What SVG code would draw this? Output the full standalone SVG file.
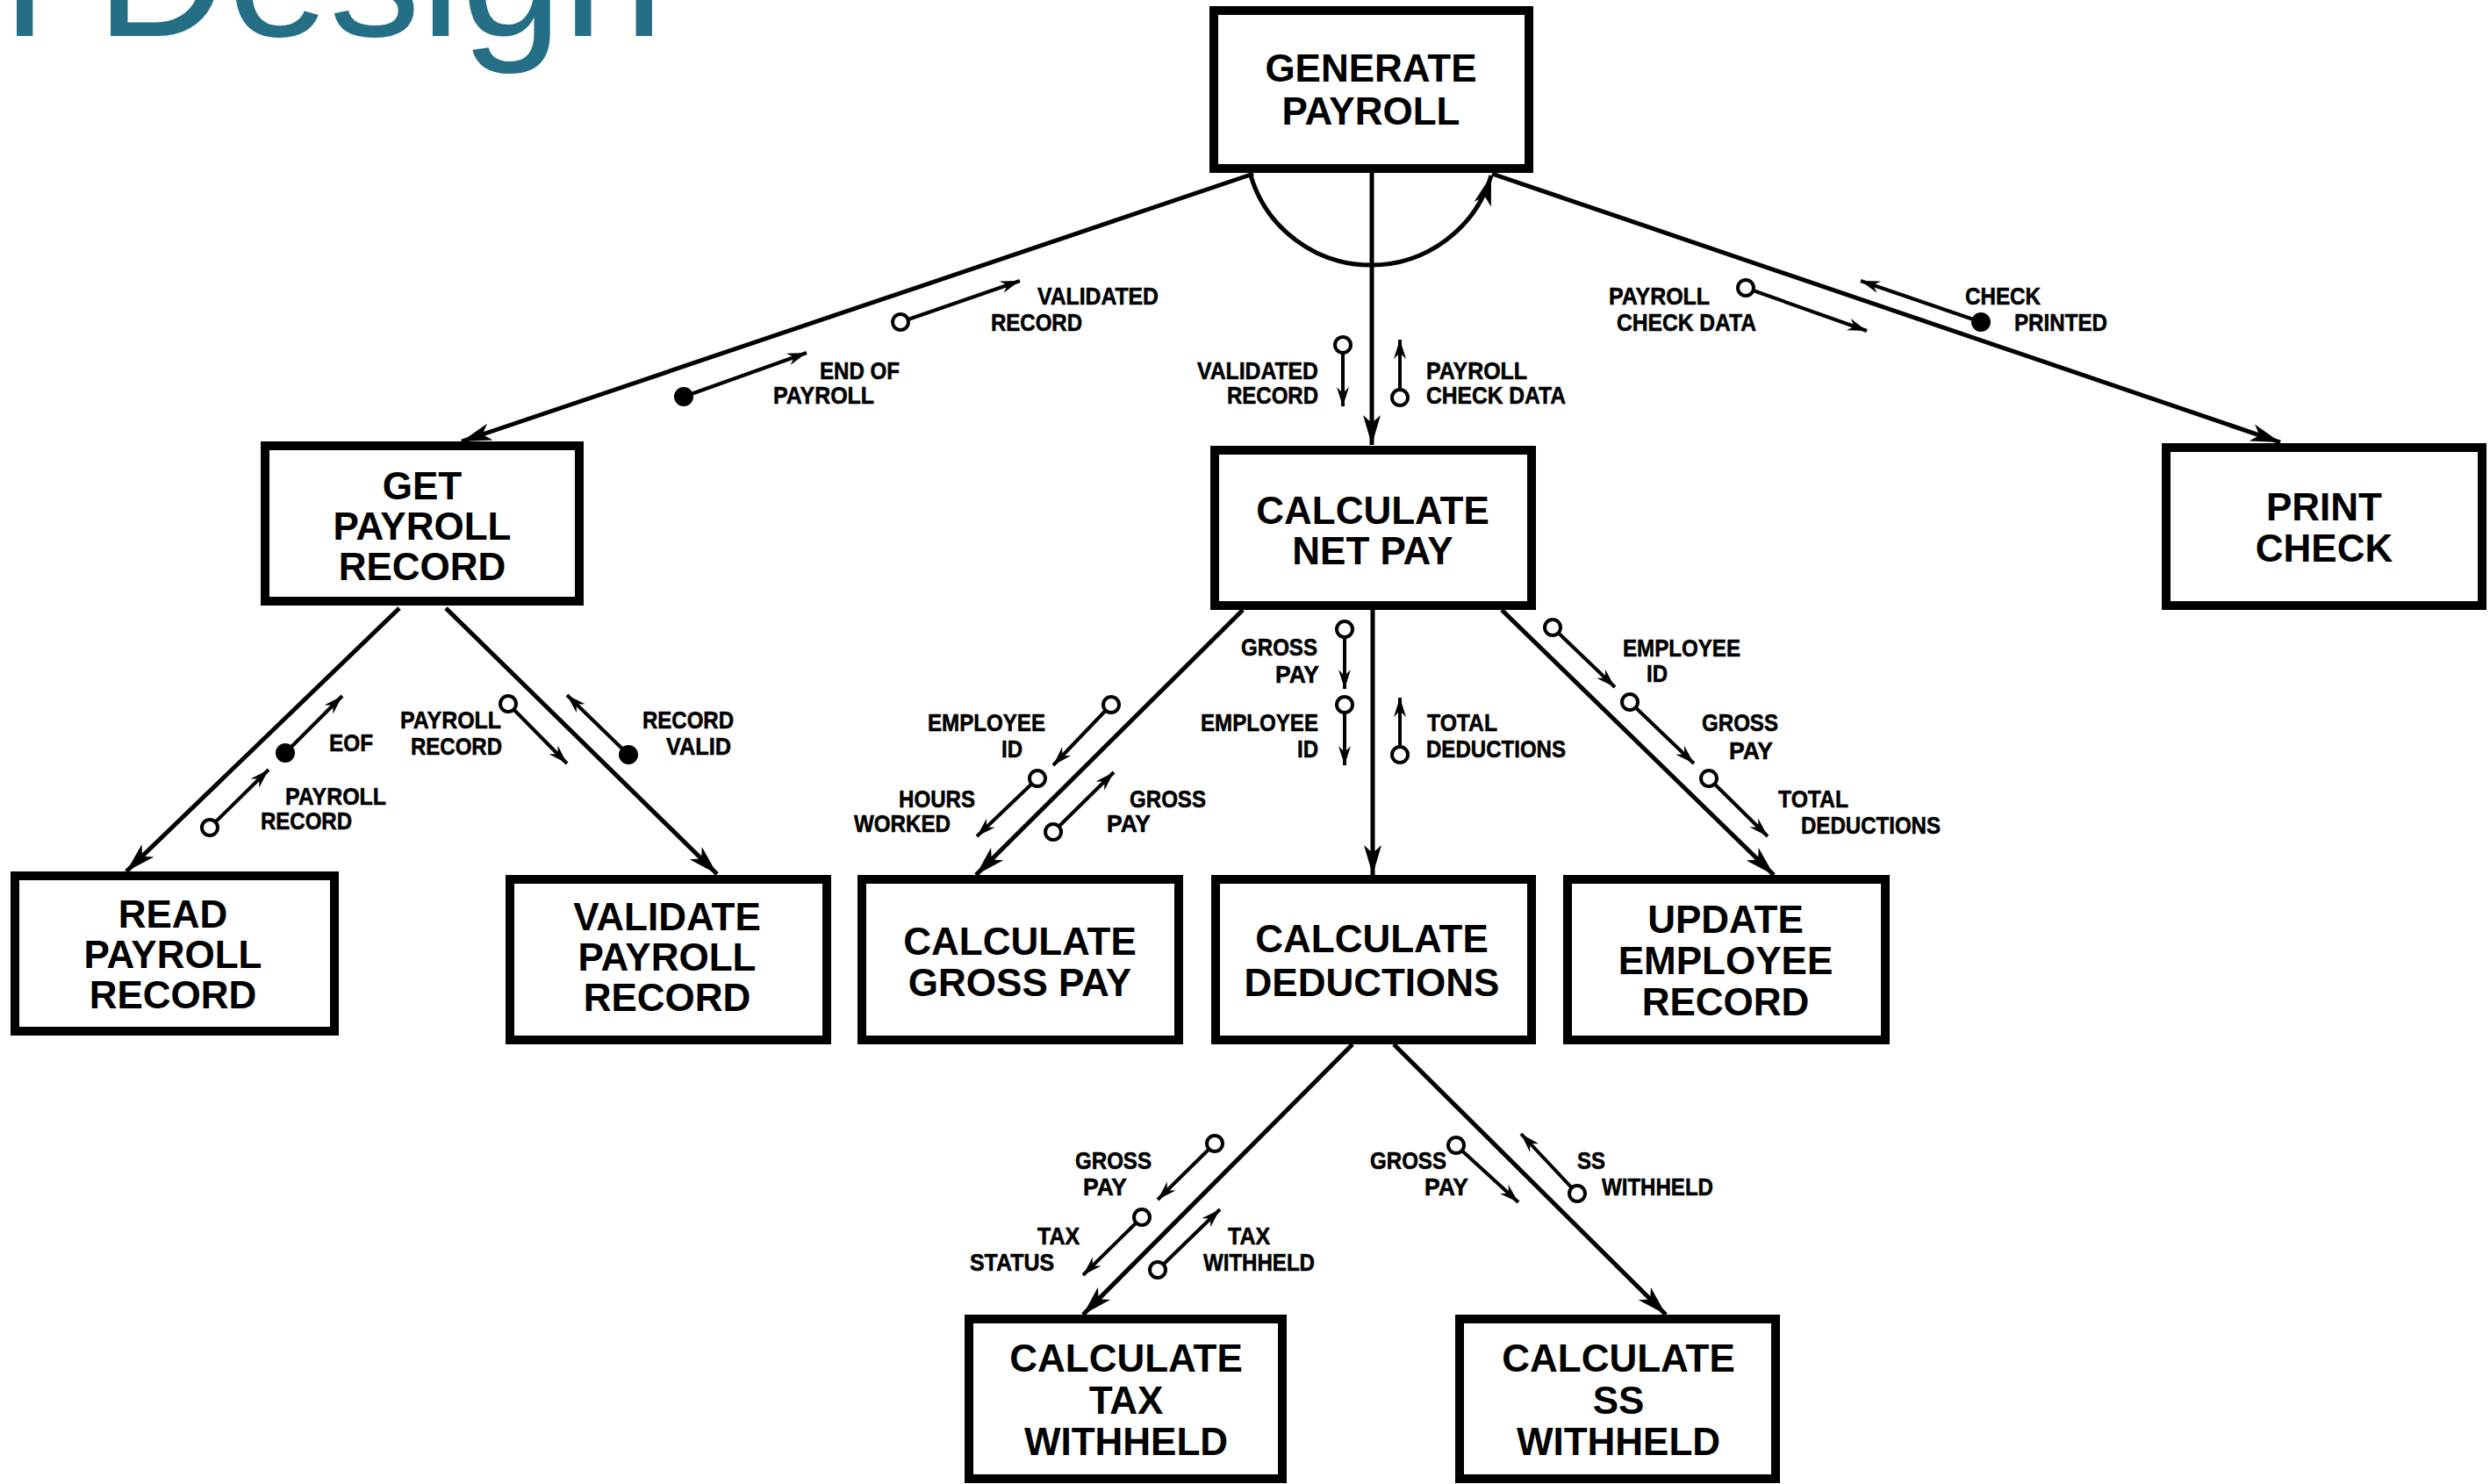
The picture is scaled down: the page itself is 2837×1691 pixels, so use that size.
<svg xmlns="http://www.w3.org/2000/svg" width="2837" height="1691" viewBox="0 0 2837 1691">
  <defs>
    <style>
      .box { fill: #fff; stroke: #000; stroke-width: 10; }
      .nt { font-family: "Liberation Sans", Arial, sans-serif; font-weight: bold; font-size: 44px; text-anchor: middle; fill: #000; }
      .lb { font-family: "Liberation Sans", Arial, sans-serif; font-weight: bold; font-size: 28px; fill: #000; stroke: #000; stroke-width: 0.6; }
      .ln { stroke: #000; stroke-width: 5; fill: none; }
      .cp { stroke: #000; stroke-width: 4; fill: none; }
      .oc { fill: #fff; stroke: #000; stroke-width: 4; }
      .fd { fill: #000; }
      .title { font-family: "Liberation Sans", Arial, sans-serif; font-size: 208px; fill: #246f86; }
    </style>
    <marker id="ah" markerUnits="userSpaceOnUse" viewBox="-36 -12 40 24" markerWidth="40" markerHeight="24" refX="0" refY="0" orient="auto">
      <path d="M0,0 L-34,-10 L-25,0 L-34,10 Z" fill="#000"/>
    </marker>
    <marker id="sa" markerUnits="userSpaceOnUse" viewBox="-26 -10 30 20" markerWidth="30" markerHeight="20" refX="0" refY="0" orient="auto">
      <path d="M0,0 L-22,-7 L-15,0 L-22,7 Z" fill="#000"/>
    </marker>
  </defs>

  <rect x="0" y="0" width="2837" height="1691" fill="#fff"/>

  <text class="title" x="5" y="41">l Design</text>

  <!-- structure chart connectors and data couples -->
  <g id="connectors">
    <!-- calls -->
    <line class="ln" x1="1428" y1="198" x2="526" y2="503" marker-end="url(#ah)"/>
    <line class="ln" x1="1563" y1="195" x2="1563" y2="507" marker-end="url(#ah)"/>
    <line class="ln" x1="1700" y1="198" x2="2598" y2="504" marker-end="url(#ah)"/>
    <path class="ln" d="M1425,200 A143,143 0 0 0 1699,200" marker-end="url(#ah)"/>

    <line class="ln" x1="455" y1="693" x2="144" y2="993" marker-end="url(#ah)"/>
    <line class="ln" x1="508" y1="693" x2="817" y2="996" marker-end="url(#ah)"/>

    <line class="ln" x1="1416" y1="695" x2="1112" y2="997" marker-end="url(#ah)"/>
    <line class="ln" x1="1564" y1="695" x2="1564" y2="997" marker-end="url(#ah)"/>
    <line class="ln" x1="1711" y1="695" x2="2021" y2="997" marker-end="url(#ah)"/>

    <line class="ln" x1="1541" y1="1190" x2="1234" y2="1498" marker-end="url(#ah)"/>
    <line class="ln" x1="1588" y1="1190" x2="1898" y2="1498" marker-end="url(#ah)"/>

    <!-- couple arrows -->
    <line class="cp" x1="1026" y1="367" x2="1162" y2="320" marker-end="url(#sa)"/>
    <line class="cp" x1="779" y1="452" x2="919" y2="402" marker-end="url(#sa)"/>
    <line class="cp" x1="1989" y1="328" x2="2127" y2="377" marker-end="url(#sa)"/>
    <line class="cp" x1="2257" y1="367" x2="2120" y2="320" marker-end="url(#sa)"/>
    <line class="cp" x1="1530" y1="393" x2="1530" y2="463" marker-end="url(#sa)"/>
    <line class="cp" x1="1595" y1="453" x2="1595" y2="387" marker-end="url(#sa)"/>

    <line class="cp" x1="325" y1="858" x2="390" y2="793" marker-end="url(#sa)"/>
    <line class="cp" x1="239" y1="943" x2="306" y2="877" marker-end="url(#sa)"/>
    <line class="cp" x1="579" y1="802" x2="646" y2="870" marker-end="url(#sa)"/>
    <line class="cp" x1="716" y1="860" x2="646" y2="792" marker-end="url(#sa)"/>

    <line class="cp" x1="1266" y1="803" x2="1200" y2="872" marker-end="url(#sa)"/>
    <line class="cp" x1="1182" y1="887" x2="1113" y2="953" marker-end="url(#sa)"/>
    <line class="cp" x1="1200" y1="948" x2="1269" y2="880" marker-end="url(#sa)"/>

    <line class="cp" x1="1532" y1="717" x2="1532" y2="785" marker-end="url(#sa)"/>
    <line class="cp" x1="1532" y1="803" x2="1532" y2="872" marker-end="url(#sa)"/>
    <line class="cp" x1="1595" y1="860" x2="1595" y2="795" marker-end="url(#sa)"/>

    <line class="cp" x1="1769" y1="715" x2="1840" y2="783" marker-end="url(#sa)"/>
    <line class="cp" x1="1857" y1="800" x2="1930" y2="870" marker-end="url(#sa)"/>
    <line class="cp" x1="1947" y1="887" x2="2014" y2="953" marker-end="url(#sa)"/>

    <line class="cp" x1="1384" y1="1303" x2="1319" y2="1367" marker-end="url(#sa)"/>
    <line class="cp" x1="1301" y1="1387" x2="1234" y2="1453" marker-end="url(#sa)"/>
    <line class="cp" x1="1319" y1="1447" x2="1390" y2="1378" marker-end="url(#sa)"/>
    <line class="cp" x1="1659" y1="1305" x2="1730" y2="1370" marker-end="url(#sa)"/>
    <line class="cp" x1="1797" y1="1360" x2="1733" y2="1292" marker-end="url(#sa)"/>

    <!-- couple tails: open = data, filled = control -->
    <circle class="oc" cx="1026" cy="367" r="9"/>
    <circle class="fd" cx="779" cy="452" r="11"/>
    <circle class="oc" cx="1989" cy="328" r="9"/>
    <circle class="fd" cx="2257" cy="367" r="11"/>
    <circle class="oc" cx="1530" cy="393" r="9"/>
    <circle class="oc" cx="1595" cy="453" r="9"/>
    <circle class="fd" cx="325" cy="858" r="11"/>
    <circle class="oc" cx="239" cy="943" r="9"/>
    <circle class="oc" cx="579" cy="802" r="9"/>
    <circle class="fd" cx="716" cy="860" r="11"/>
    <circle class="oc" cx="1266" cy="803" r="9"/>
    <circle class="oc" cx="1182" cy="887" r="9"/>
    <circle class="oc" cx="1200" cy="948" r="9"/>
    <circle class="oc" cx="1532" cy="717" r="9"/>
    <circle class="oc" cx="1532" cy="803" r="9"/>
    <circle class="oc" cx="1595" cy="860" r="9"/>
    <circle class="oc" cx="1769" cy="715" r="9"/>
    <circle class="oc" cx="1857" cy="800" r="9"/>
    <circle class="oc" cx="1947" cy="887" r="9"/>
    <circle class="oc" cx="1384" cy="1303" r="9"/>
    <circle class="oc" cx="1301" cy="1387" r="9"/>
    <circle class="oc" cx="1319" cy="1447" r="9"/>
    <circle class="oc" cx="1659" cy="1305" r="9"/>
    <circle class="oc" cx="1797" cy="1360" r="9"/>

    <!-- couple labels -->
    <text class="lb" x="1182" y="347" textLength="138" lengthAdjust="spacingAndGlyphs">VALIDATED</text>
    <text class="lb" x="1129" y="377" textLength="104" lengthAdjust="spacingAndGlyphs">RECORD</text>
    <text class="lb" x="934" y="432" textLength="91" lengthAdjust="spacingAndGlyphs">END OF</text>
    <text class="lb" x="881" y="460" textLength="115" lengthAdjust="spacingAndGlyphs">PAYROLL</text>
    <text class="lb" x="1833" y="347" textLength="115" lengthAdjust="spacingAndGlyphs">PAYROLL</text>
    <text class="lb" x="1842" y="377" textLength="159" lengthAdjust="spacingAndGlyphs">CHECK DATA</text>
    <text class="lb" x="2239" y="347" textLength="86" lengthAdjust="spacingAndGlyphs">CHECK</text>
    <text class="lb" x="2295" y="377" textLength="106" lengthAdjust="spacingAndGlyphs">PRINTED</text>
    <text class="lb" x="1364" y="432" textLength="138" lengthAdjust="spacingAndGlyphs">VALIDATED</text>
    <text class="lb" x="1398" y="460" textLength="104" lengthAdjust="spacingAndGlyphs">RECORD</text>
    <text class="lb" x="1625" y="432" textLength="115" lengthAdjust="spacingAndGlyphs">PAYROLL</text>
    <text class="lb" x="1625" y="460" textLength="159" lengthAdjust="spacingAndGlyphs">CHECK DATA</text>

    <text class="lb" x="375" y="856" textLength="50" lengthAdjust="spacingAndGlyphs">EOF</text>
    <text class="lb" x="325" y="917" textLength="115" lengthAdjust="spacingAndGlyphs">PAYROLL</text>
    <text class="lb" x="297" y="945" textLength="104" lengthAdjust="spacingAndGlyphs">RECORD</text>
    <text class="lb" x="456" y="830" textLength="115" lengthAdjust="spacingAndGlyphs">PAYROLL</text>
    <text class="lb" x="468" y="860" textLength="104" lengthAdjust="spacingAndGlyphs">RECORD</text>
    <text class="lb" x="732" y="830" textLength="104" lengthAdjust="spacingAndGlyphs">RECORD</text>
    <text class="lb" x="759" y="860" textLength="74" lengthAdjust="spacingAndGlyphs">VALID</text>

    <text class="lb" x="1057" y="833" textLength="134" lengthAdjust="spacingAndGlyphs">EMPLOYEE</text>
    <text class="lb" x="1141" y="863" textLength="24" lengthAdjust="spacingAndGlyphs">ID</text>
    <text class="lb" x="1024" y="920" textLength="87" lengthAdjust="spacingAndGlyphs">HOURS</text>
    <text class="lb" x="973" y="948" textLength="110" lengthAdjust="spacingAndGlyphs">WORKED</text>
    <text class="lb" x="1287" y="920" textLength="87" lengthAdjust="spacingAndGlyphs">GROSS</text>
    <text class="lb" x="1261" y="948" textLength="50" lengthAdjust="spacingAndGlyphs">PAY</text>

    <text class="lb" x="1414" y="747" textLength="87" lengthAdjust="spacingAndGlyphs">GROSS</text>
    <text class="lb" x="1453" y="778" textLength="50" lengthAdjust="spacingAndGlyphs">PAY</text>
    <text class="lb" x="1368" y="833" textLength="134" lengthAdjust="spacingAndGlyphs">EMPLOYEE</text>
    <text class="lb" x="1478" y="863" textLength="24" lengthAdjust="spacingAndGlyphs">ID</text>
    <text class="lb" x="1626" y="833" textLength="80" lengthAdjust="spacingAndGlyphs">TOTAL</text>
    <text class="lb" x="1625" y="863" textLength="159" lengthAdjust="spacingAndGlyphs">DEDUCTIONS</text>

    <text class="lb" x="1849" y="748" textLength="134" lengthAdjust="spacingAndGlyphs">EMPLOYEE</text>
    <text class="lb" x="1876" y="777" textLength="24" lengthAdjust="spacingAndGlyphs">ID</text>
    <text class="lb" x="1939" y="833" textLength="87" lengthAdjust="spacingAndGlyphs">GROSS</text>
    <text class="lb" x="1970" y="865" textLength="50" lengthAdjust="spacingAndGlyphs">PAY</text>
    <text class="lb" x="2026" y="920" textLength="80" lengthAdjust="spacingAndGlyphs">TOTAL</text>
    <text class="lb" x="2052" y="950" textLength="159" lengthAdjust="spacingAndGlyphs">DEDUCTIONS</text>

    <text class="lb" x="1225" y="1332" textLength="87" lengthAdjust="spacingAndGlyphs">GROSS</text>
    <text class="lb" x="1234" y="1362" textLength="50" lengthAdjust="spacingAndGlyphs">PAY</text>
    <text class="lb" x="1182" y="1418" textLength="48" lengthAdjust="spacingAndGlyphs">TAX</text>
    <text class="lb" x="1105" y="1448" textLength="96" lengthAdjust="spacingAndGlyphs">STATUS</text>
    <text class="lb" x="1399" y="1418" textLength="48" lengthAdjust="spacingAndGlyphs">TAX</text>
    <text class="lb" x="1371" y="1448" textLength="127" lengthAdjust="spacingAndGlyphs">WITHHELD</text>
    <text class="lb" x="1561" y="1332" textLength="87" lengthAdjust="spacingAndGlyphs">GROSS</text>
    <text class="lb" x="1623" y="1362" textLength="50" lengthAdjust="spacingAndGlyphs">PAY</text>
    <text class="lb" x="1797" y="1332" textLength="32" lengthAdjust="spacingAndGlyphs">SS</text>
    <text class="lb" x="1825" y="1362" textLength="127" lengthAdjust="spacingAndGlyphs">WITHHELD</text>
  </g>

  <!-- modules -->
  <g id="generate-payroll">
    <rect class="box" x="1383" y="12" width="359" height="180"/>
    <text class="nt" x="1562" y="93">GENERATE</text>
    <text class="nt" x="1562" y="142">PAYROLL</text>
  </g>
  <g id="get-payroll-record">
    <rect class="box" x="302" y="508" width="358" height="177"/>
    <text class="nt" x="481" y="569">GET</text>
    <text class="nt" x="481" y="615">PAYROLL</text>
    <text class="nt" x="481" y="661">RECORD</text>
  </g>
  <g id="calculate-net-pay">
    <rect class="box" x="1384" y="513" width="361" height="177"/>
    <text class="nt" x="1564" y="597">CALCULATE</text>
    <text class="nt" x="1564" y="643">NET PAY</text>
  </g>
  <g id="print-check">
    <rect class="box" x="2468" y="510" width="360" height="180"/>
    <text class="nt" x="2648" y="593">PRINT</text>
    <text class="nt" x="2648" y="640">CHECK</text>
  </g>
  <g id="read-payroll-record">
    <rect class="box" x="17" y="998" width="364" height="177"/>
    <text class="nt" x="197" y="1057">READ</text>
    <text class="nt" x="197" y="1103">PAYROLL</text>
    <text class="nt" x="197" y="1149">RECORD</text>
  </g>
  <g id="validate-payroll-record">
    <rect class="box" x="581" y="1002" width="361" height="183"/>
    <text class="nt" x="760" y="1060">VALIDATE</text>
    <text class="nt" x="760" y="1106">PAYROLL</text>
    <text class="nt" x="760" y="1152">RECORD</text>
  </g>
  <g id="calculate-gross-pay">
    <rect class="box" x="982" y="1002" width="361" height="183"/>
    <text class="nt" x="1162" y="1088">CALCULATE</text>
    <text class="nt" x="1162" y="1135">GROSS PAY</text>
  </g>
  <g id="calculate-deductions">
    <rect class="box" x="1385" y="1002" width="360" height="183"/>
    <text class="nt" x="1563" y="1085">CALCULATE</text>
    <text class="nt" x="1563" y="1135">DEDUCTIONS</text>
  </g>
  <g id="update-employee-record">
    <rect class="box" x="1786" y="1002" width="362" height="183"/>
    <text class="nt" x="1966" y="1063">UPDATE</text>
    <text class="nt" x="1966" y="1110">EMPLOYEE</text>
    <text class="nt" x="1966" y="1157">RECORD</text>
  </g>
  <g id="calculate-tax-withheld">
    <rect class="box" x="1104" y="1503" width="357" height="182"/>
    <text class="nt" x="1283" y="1563">CALCULATE</text>
    <text class="nt" x="1283" y="1611">TAX</text>
    <text class="nt" x="1283" y="1658">WITHHELD</text>
  </g>
  <g id="calculate-ss-withheld">
    <rect class="box" x="1663" y="1503" width="360" height="182"/>
    <text class="nt" x="1844" y="1563">CALCULATE</text>
    <text class="nt" x="1844" y="1611">SS</text>
    <text class="nt" x="1844" y="1658">WITHHELD</text>
  </g>
</svg>
